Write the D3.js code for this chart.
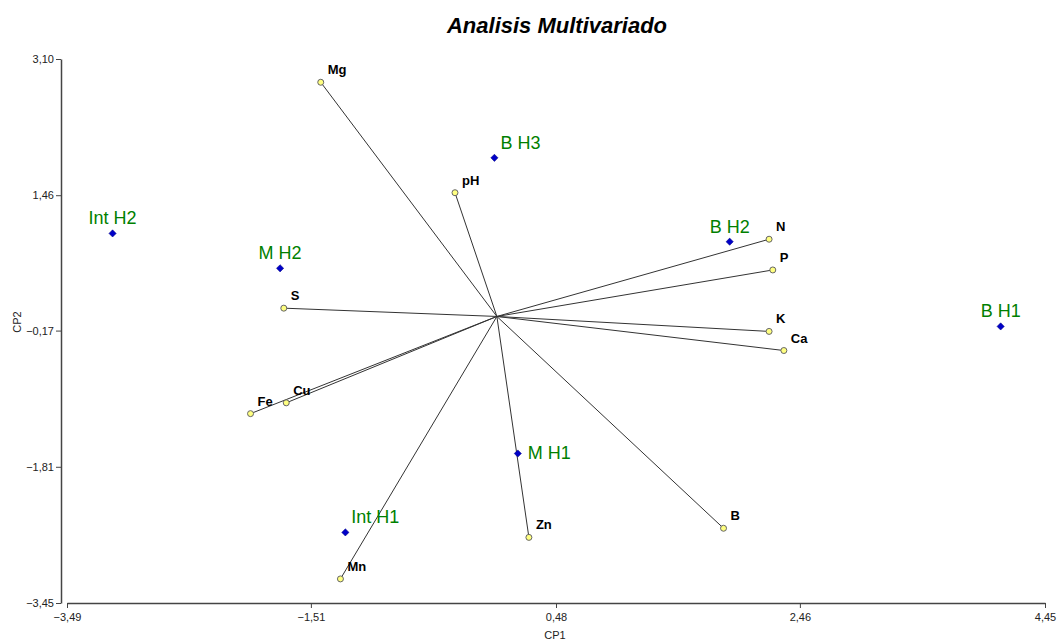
<!DOCTYPE html>
<html><head><meta charset="utf-8">
<script src="https://cdn.jsdelivr.net/npm/d3@7/dist/d3.min.js"></script>
<style>body{margin:0;background:#fff}svg{display:block}</style>
</head><body>
<svg id="chart" width="1058" height="644"></svg>
<script>
// ---- data ----
const variableNames = ["Mg","pH","N","P","S","K","Ca","Cu","Fe","B","Zn","Mn"];
const variableCP1   = [-1.43,-0.34,2.21,2.24,-1.73,2.21,2.33,-1.71,-2.00,1.84,0.26,-1.27];
const variableCP2   = [2.82,1.49,0.93,0.56,0.10,-0.18,-0.41,-1.04,-1.17,-2.55,-2.66,-3.16];

const sampleNames = ["B H1","B H2","B H3","M H1","M H2","Int H1","Int H2"];
const sampleCP1   = [4.09,1.89,-0.02,0.17,-1.76,-1.23,-3.12];
const sampleCP2   = [-0.12,0.90,1.91,-1.65,0.58,-2.60,1.00];
const samplePlacement = ["above","above","aboveRight","right","above","aboveRight","above"];

const xTicks = [-3.49,-1.51,0.48,2.46,4.45];
const yTicks = [-3.45,-1.81,-0.17,1.46,3.10];

// ---- drawing ----
const svg = d3.select("#chart");
const font = "Arial, 'Liberation Sans', sans-serif";
const x = d3.scaleLinear().domain([-3.49,4.45]).range([67,1045]);
const y = d3.scaleLinear().domain([-3.45,3.10]).range([603,59]);
const fmt = v => d3.format(".2f")(v).replace(".", ",");

svg.append("text").attr("x",557).attr("y",33).attr("text-anchor","middle")
  .attr("font-family",font).attr("font-size",22).attr("font-weight","bold")
  .attr("font-style","italic").attr("fill","#000").text("Analisis Multivariado");

const gx = svg.append("g").attr("transform","translate(0,603)")
  .call(d3.axisBottom(x).tickValues(xTicks).tickFormat(fmt).tickSize(5).tickSizeOuter(0).tickPadding(5));
const gy = svg.append("g").attr("transform","translate(61,0)")
  .call(d3.axisLeft(y).tickValues(yTicks).tickFormat(fmt).tickSize(5).tickSizeOuter(0).tickPadding(2));
[gx,gy].forEach(g=>{
  g.select(".domain").attr("stroke","#444").attr("stroke-width",1.5);
  g.selectAll(".tick line").attr("stroke","#444");
  g.selectAll(".tick text").attr("font-family",font).attr("font-size",11).attr("fill","#222");
});

svg.append("text").attr("x",555).attr("y",639).attr("text-anchor","middle")
  .attr("font-family",font).attr("font-size",11).attr("fill","#222").text("CP1");
svg.append("text").attr("transform","translate(21,322) rotate(-90)").attr("text-anchor","middle")
  .attr("font-family",font).attr("font-size",11).attr("fill","#222").text("CP2");

const variables = variableNames.map((n,i)=>({n, a:variableCP1[i], b:variableCP2[i]}));
const samples = sampleNames.map((n,i)=>({n, a:sampleCP1[i], b:sampleCP2[i], p:samplePlacement[i]}));

// vectors
svg.append("g").selectAll("line").data(variables).join("line")
  .attr("x1",x(0)).attr("y1",y(0)).attr("x2",d=>x(d.a)).attr("y2",d=>y(d.b))
  .attr("stroke","#333").attr("stroke-width",1);

svg.append("g").selectAll("circle").data(variables).join("circle")
  .attr("cx",d=>x(d.a)).attr("cy",d=>y(d.b)).attr("r",3)
  .attr("fill","#ffff80").attr("stroke","#666").attr("stroke-width",1);

svg.append("g").selectAll("text").data(variables).join("text")
  .attr("x",d=>x(d.a)+7).attr("y",d=>y(d.b)-8)
  .attr("font-family",font).attr("font-size",13).attr("font-weight","bold").attr("fill","#000")
  .text(d=>d.n);

// samples
const sym = d3.symbol().type(d3.symbolSquare).size(26);
svg.append("g").selectAll("path").data(samples).join("path")
  .attr("d",sym).attr("transform",d=>`translate(${x(d.a)},${y(d.b)}) rotate(45)`)
  .attr("fill","#0000c8").attr("stroke","#000080").attr("stroke-width",0.5);

const place = {
  above:{dx:0,dy:-9,anchor:"middle"},
  aboveRight:{dx:6,dy:-9,anchor:"start"},
  right:{dx:10,dy:5,anchor:"start"}
};
svg.append("g").selectAll("text").data(samples).join("text")
  .attr("x",d=>x(d.a)+place[d.p].dx).attr("y",d=>y(d.b)+place[d.p].dy)
  .attr("text-anchor",d=>place[d.p].anchor)
  .attr("font-family",font).attr("font-size",18).attr("fill","#008000")
  .text(d=>d.n);
</script>
</body></html>
